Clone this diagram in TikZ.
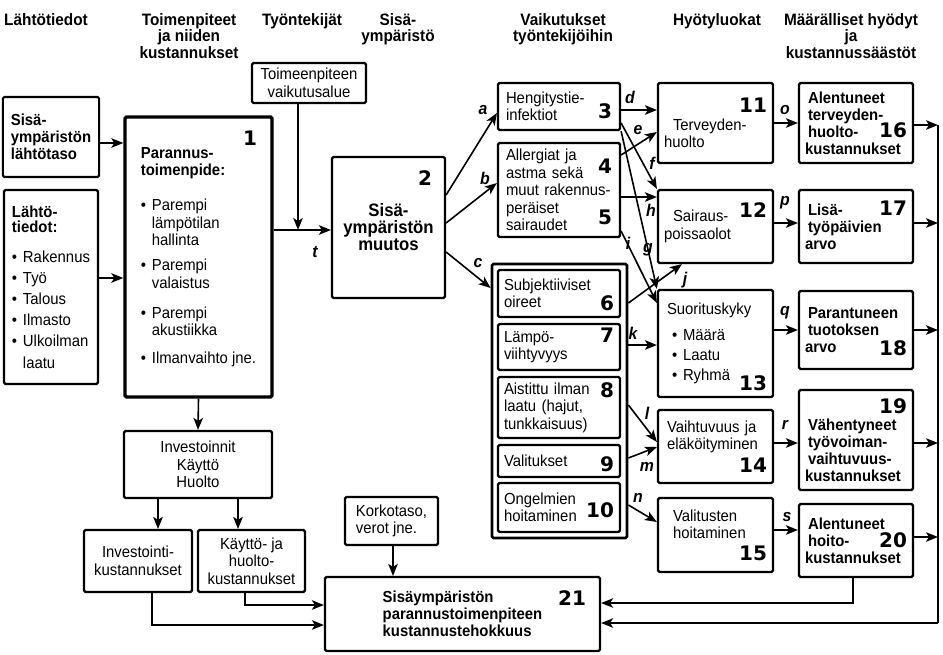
\documentclass[tikz,border=0pt]{standalone}
\usepackage{fontspec}
\setmainfont{Liberation Sans}[FakeStretch=0.93]
\newfontfamily\numfont{DejaVu Sans}
\usetikzlibrary{arrows.meta}
\hyphenpenalty=10000
\newcommand\txtfont{\fontsize{16}{17.5}\selectfont}
\newcommand\bldfont{\fontsize{16}{17}\selectfont\bfseries}
\newcommand\bigbold{\fontsize{18}{17}\selectfont\bfseries}
\newcommand\nrtxt[1]{{\numfont\bfseries\fontsize{20}{20}\selectfont #1}}
\newcommand\boxnr[2][0pt]{\smash{\raisebox{#1}{\nrtxt{#2}}}}
\newcommand\bul{\makebox[11pt][l]{\textbullet}}
\newcommand\hng{\hspace*{11pt}}

\begin{document}
\begin{tikzpicture}[x=1pt,y=-1pt,
  wh/.style 2 args={minimum width=#1pt,minimum height=#2pt},
  box/.style={draw,line width=2.2pt,rounded corners=1.5pt,inner xsep=8pt,inner ysep=2pt,align=left,font=\txtfont},
  bbox/.style={box,font=\bldfont},
  hdr/.style={anchor=north,inner sep=0pt,align=center,font=\fontsize{16.5}{16.5}\selectfont\bfseries},
  boxnr/.style={inner sep=0pt,font=\numfont\bfseries\fontsize{20}{20}\selectfont},
  lbl/.style={inner sep=0pt,font=\fontsize{17}{17}\selectfont\bfseries\itshape},
  line/.style={line width=1.6pt},
  arr/.style={line,-{Stealth[length=12pt,width=9.5pt,inset=3pt]}}]
\useasboundingbox (0,0) rectangle (943,654);

% column titles
\node[hdr] (hLaht) at (46,13) {Lähtötiedot};
\node[hdr] (hToim) at (189,13) {Toimenpiteet\\ja niiden\\kustannukset};
\node[hdr] (hTyon) at (302,13) {Työntekijät};
\node[hdr] (hSisa) at (398,13) {Sisä-\\ympäristö};
\node[hdr] (hVaik) at (563,13) {Vaikutukset\\työntekijöihin};
\node[hdr] (hHyot) at (717,13) {Hyötyluokat};
\node[hdr] (hMaar) at (851,13) {Määrälliset hyödyt\\ja\\kustannussäästöt};

% left part
\node[bbox,wh={94}{80}] (lahtotaso) at (51,137) {Sisä-\\ympäristön\\lähtötaso};
\node[box,wh={94}{194}] (lahtotiedot) at (51,287) {{\bfseries Lähtö-}\\[-2.5pt]{\bfseries tiedot:}\\[12.5pt]
  \bul Rakennus\\[3.5pt]\bul Työ\\[3.5pt]\bul Talous\\[3.5pt]\bul Ilmasto\\[3.5pt]\bul Ulkoilman\\[4.5pt]\hng laatu};
\node[box,line width=3.4pt,wh={147}{280}] (toimenpide) at (198.5,257) {{\bfseries Parannus-}\\{\bfseries toimenpide:}\\[17.5pt]
  \bul Parempi\\\hng lämpötilan\\\hng hallinta\\[7.5pt]
  \bul Parempi\\\hng valaistus\\[12.5pt]
  \bul Parempi\\\hng akustiikka\\[10.5pt]
  \bul Ilmanvaihto jne.};
\node[boxnr] (nr1) at (250,138) {1};
\node[box,align=center,wh={114}{40}] (alue) at (309,83) {Toimeenpiteen\\vaikutusalue};
\node[box,align=center,wh={113}{141},font=\bigbold] (muutos) at (388.5,227.5) {Sisä-\\ympäristön\\muutos};
\node[boxnr] (nr2) at (425,178) {2};

% costs
\node[box,align=center,wh={148}{67}] (investoinnit) at (198,464.5) {Investoinnit\\Käyttö\\Huolto};
\node[box,align=center,wh={108}{62}] (invkust) at (138,561) {Investointi-\\kustannukset};
\node[box,align=center,wh={107}{62}] (kaytkust) at (251.5,561) {Käyttö- ja\\huolto-\\kustannukset};
\node[box,wh={93}{48}] (korko) at (391.5,521) {Korkotaso,\\verot jne.};
\node[bbox,wh={275}{74}] (tehokkuus) at (462.5,614) {Sisäympäristön\\parannustoimenpiteen\\kustannustehokkuus};
\node[boxnr] (nr21) at (572,598) {21};

% effects on workers
\node[box,text width=106pt,wh={122}{47}] (hengitys) at (559,106.5) {Hengitystie-\\infektiot\hfill\boxnr[2pt]{3}};
\node[box,text width=106pt,wh={122}{94}] (allergiat) at (559,190) {Allergiat ja\\astma sekä\hfill\boxnr[5pt]{4}\\muut rakennus-\\peräiset\\sairaudet\hfill\boxnr[6pt]{5}};
\node[draw,line width=2.8pt,rounded corners=1.5pt,wh={135}{274}] (oireryhma) at (559.5,401) {};
\node[box,inner xsep=6pt,text width=110pt,wh={122}{47}] (oireet) at (559,293.5) {Subjektiiviset\\oireet\hfill\boxnr[-3pt]{6}};
\node[box,inner xsep=6pt,text width=110pt,wh={122}{46}] (lampo) at (559,347) {Lämpö-\hfill\boxnr{7}\\viihtyvyys};
\node[box,inner xsep=6pt,text width=110pt,wh={122}{61}] (ilma) at (559,407.5) {Aistittu ilman\hfill\boxnr[-3pt]{8}\\laatu (hajut,\\tunkkaisuus)};
\node[box,inner xsep=6pt,text width=110pt,wh={122}{32}] (valitukset) at (559,461) {Valitukset\hfill\boxnr[-5pt]{9}};
\node[box,inner xsep=6pt,text width=110pt,wh={122}{49}] (ongelmat) at (559,507.5) {Ongelmien\\hoitaminen\hfill\boxnr[4pt]{10}};

% benefit classes
\node[box,inner xsep=6pt,text width=103pt,wh={115}{80}] (terveys) at (715.5,123) {\leftskip=9pt\hfill\nrtxt{11}\\Terveyden-\\huolto};
\node[box,inner xsep=6pt,text width=103pt,wh={115}{73}] (sairaus) at (715.5,226.5) {\leftskip=9pt Sairaus-\\poissaolot};
\node[boxnr] (nr12) at (753,210) {12};
\node[box,inner xsep=9pt,text width=97pt,wh={115}{107}] (suorituskyky) at (715.5,343.5) {Suorituskyky\\[8.5pt]
  \hspace*{5pt}\bul Määrä\\[2.5pt]\hspace*{5pt}\bul Laatu\\[2.5pt]\hspace*{5pt}\bul Ryhmä};
\node[boxnr] (nr13) at (753,383) {13};
\node[box,inner xsep=6pt,text width=103pt,wh={115}{73}] (vaihtuvuus) at (715.5,446.5) {\leftskip=3pt Vaihtuvuus ja\\eläköityminen\\[4pt]\hfill\nrtxt{14}};
\node[box,inner xsep=6pt,text width=103pt,wh={115}{74}] (valitusten) at (715.5,535) {\leftskip=9pt Valitusten\\hoitaminen\\[4pt]\hfill\nrtxt{15}};

% quantified benefits
\node[bbox,inner xsep=6pt,text width=102pt,wh={114}{80}] (terveyskust) at (856,123) {\leftskip=3pt Alentuneet\\terveyden-\\huolto-\hfill\boxnr{16}\\kustannukset};
\node[bbox,inner xsep=6pt,text width=102pt,wh={114}{73}] (lisatyo) at (856,226.5) {\leftskip=3pt Lisä-\hfill\boxnr{17}\\työpäivien\\arvo};
\node[bbox,inner xsep=6pt,text width=102pt,wh={114}{78}] (tuotos) at (856,330) {\leftskip=3pt Parantuneen\\tuotoksen\\arvo\hfill\boxnr[-3pt]{18}};
\node[bbox,inner xsep=6pt,text width=102pt,wh={114}{100}] (vaihtkust) at (856,440) {\leftskip=3pt\hfill\nrtxt{19}\\Vähentyneet\\työvoiman-\\vaihtuvuus-\\kustannukset};
\node[bbox,inner xsep=6pt,text width=102pt,wh={114}{73}] (hoitokust) at (856,540.5) {\leftskip=3pt Alentuneet\\hoito-\hfill\boxnr[-1pt]{20}\\kustannukset};

% arrow letters
\node[lbl] (lt) at (315,252) {t};
\node[lbl] (la) at (483,110) {a};
\node[lbl] (lb) at (485,178) {b};
\node[lbl] (lc) at (478,263) {c};
\node[lbl] (ld) at (630,97) {d};
\node[lbl] (le) at (638,130) {e};
\node[lbl] (lf) at (652,163) {f};
\node[lbl] (lg) at (648,250) {g};
\node[lbl] (lh) at (651,210) {h};
\node[lbl] (li) at (628,243) {i};
\node[lbl] (lj) at (685,280) {j};
\node[lbl] (lk) at (633,333) {k};
\node[lbl] (ll) at (647,413) {l};
\node[lbl] (lm) at (647,467) {m};
\node[lbl] (ln) at (638,498) {n};
\node[lbl] (lo) at (785,110) {o};
\node[lbl] (lp) at (785,203) {p};
\node[lbl] (lq) at (785,313) {q};
\node[lbl] (lr) at (785,425) {r};
\node[lbl] (ls) at (787,517) {s};

% connectors
\draw[arr] (lahtotaso.east |- 0,143) -- (toimenpide.west |- 0,143);
\draw[arr] (lahtotiedot.east |- 0,278) -- (toimenpide.west |- 0,278);
\draw[arr] (toimenpide.east |- 0,230) -- (muutos.west |- 0,230);
\draw[arr] ([xshift=-11pt]alue.south) -- ([xshift=-11pt]alue.south |- 0,230);
\draw[arr] (muutos.east |- 0,195) -- (hengitys.west |- 0,113);
\draw[arr] (muutos.east |- 0,223) -- (allergiat.west |- 0,183);
\draw[arr] (muutos.east |- 0,252) -- (oireryhma.west |- 0,288);

\draw[arr] (hengitys.east |- 0,110) -- (terveys.west |- 0,110);
\draw[arr] (allergiat.east |- 0,155) -- (terveys.west |- 0,132);
\draw[arr] (hengitys.east |- 0,123) -- (sairaus.north west);
\draw[arr] (hengitys.south east) -- (suorituskyky.north west);
\draw[arr] (allergiat.east |- 0,197) -- (sairaus.west |- 0,197);
\draw[arr] (allergiat.east |- 0,231) -- (suorituskyky.west |- 0,303);
\draw[arr] (oireryhma.east |- 0,303) -- ([xshift=25pt]sairaus.south west);
\draw[arr] (oireryhma.east |- 0,345) -- (suorituskyky.west |- 0,345);
\draw[arr] (oireryhma.east |- 0,405) -- (vaihtuvuus.west |- 0,442);
\draw[arr] (oireryhma.east |- 0,458) -- (vaihtuvuus.west |- 0,447);
\draw[arr] (oireryhma.east |- 0,505) -- (valitusten.west |- 0,522);

\draw[arr] (terveys.east |- 0,123) -- (terveyskust.west |- 0,123);
\draw[arr] (sairaus.east |- 0,223) -- (lisatyo.west |- 0,223);
\draw[arr] (suorituskyky.east |- 0,330) -- (tuotos.west |- 0,330);
\draw[arr] (vaihtuvuus.east |- 0,443) -- (vaihtkust.west |- 0,443);
\draw[arr] (valitusten.east |- 0,530) -- (hoitokust.west |- 0,530);

% collecting line on the right
\coordinate (railtop) at (938,125);
\coordinate (railbot) at (938,623);
\draw[arr] (terveyskust.east |- railtop) -- (railtop);
\draw[arr] (lisatyo.east |- 0,223) -- (railtop |- 0,223);
\draw[arr] (tuotos.east |- 0,330) -- (railtop |- 0,330);
\draw[arr] (vaihtkust.east |- 0,443) -- (railtop |- 0,443);
\draw[arr] (hoitokust.east |- 0,537) -- (railtop |- 0,537);
\draw[line] (railtop) -- (railbot);
\draw[arr] (railbot) -- (tehokkuus.east |- railbot);
\draw[arr] ([xshift=-3pt]hoitokust.south) |- (tehokkuus.east |- 0,603);

% cost side
\draw[arr] (toimenpide.south) -- (investoinnit.north);
\draw[arr] ([xshift=-40pt]investoinnit.south) -- ([xshift=20pt]invkust.north);
\draw[arr] ([xshift=40pt]investoinnit.south) -- ([xshift=-13.5pt]kaytkust.north);
\draw[arr] ([xshift=-6.5pt]kaytkust.south) |- (tehokkuus.west |- 0,605);
\draw[arr] ([xshift=14pt]invkust.south) |- (tehokkuus.west |- 0,625);
\draw[arr] ([xshift=1.5pt]korko.south) -- ([xshift=1.5pt]korko.south |- tehokkuus.north);
\end{tikzpicture}
\end{document}
